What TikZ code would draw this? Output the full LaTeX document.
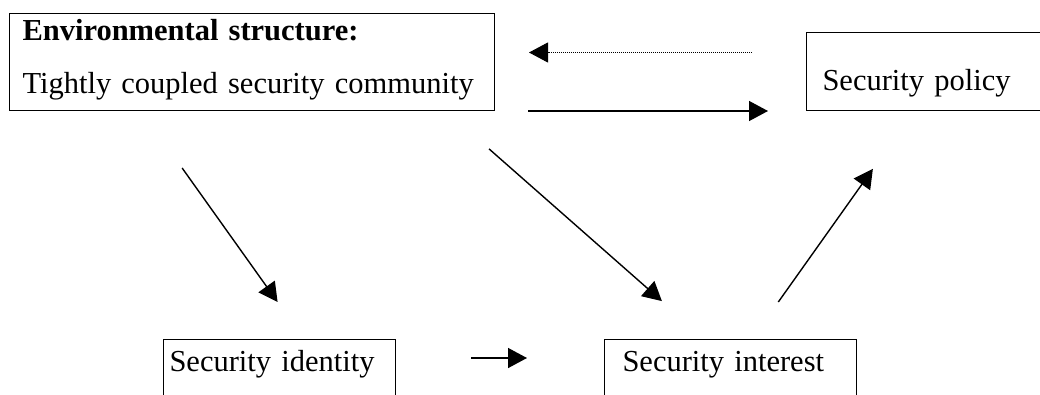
\documentclass[tikz,border=0pt]{standalone}
\usepackage{fontspec}
\setmainfont{Liberation Serif}
\usepackage{tikz}
\usetikzlibrary{arrows.meta}

\begin{document}
\begin{tikzpicture}[x=1pt,y=-1pt,
  box/.style={draw, line width=1pt, anchor=north west, inner ysep=0pt, align=left,
    font=\fontsize{30.5}{53}\selectfont},
  arr/.style={line width=1.4pt, -{Triangle[length=19pt,width=20pt]}},
  dotarr/.style={line width=1pt, dash pattern=on 1pt off 1pt, -{Triangle[length=19pt,width=20pt]}}]
  \useasboundingbox (0,0) rectangle (1040,394);
  \clip (0,0) rectangle (1040,394);
  \node [box, inner xsep=13pt, text width=459pt, text height=27pt, text depth=70pt] at (9,13) (env)
    {\textbf{Environmental structure:}\\Tightly coupled security community};
  \node [box, inner xsep=16pt, text width=228pt, text height=58pt, text depth=20pt] at (806,32) (pol) {Security policy};
  \node [box, inner xsep=6pt, text width=220pt, text height=32pt, text depth=50pt] at (163,339) (ident) {Security identity};
  \node [box, inner xsep=18pt, text width=216pt, text height=32pt, text depth=50pt] at (604,339) (inter) {Security interest};
  \draw [dotarr, shorten <=54pt, shorten >=34pt] ([yshift=19pt]pol.west) -- ([yshift=9.5pt]env.east);
  \draw [arr, shorten <=33pt, shorten >=38pt] (env.south east) -- (pol.south west);
  \draw [arr, shorten <=70pt, shorten >=45.5pt] ([xshift=132.5pt]env.south west) -- ([xshift=141pt]ident.north west);
  \draw [arr, shorten <=57.4pt, shorten >=57.4pt] ([xshift=437pt]env.south west) -- ([xshift=101pt]inter.north west);
  \draw [arr, shorten <=45.4pt, shorten >=71pt] ([xshift=148pt]inter.north west) -- ([xshift=108pt]pol.south west);
  \draw [arr, shorten <=75pt, shorten >=77pt] ([yshift=-19pt]ident.north east) -- ([yshift=-19pt]inter.north west);
\end{tikzpicture}
\end{document}
